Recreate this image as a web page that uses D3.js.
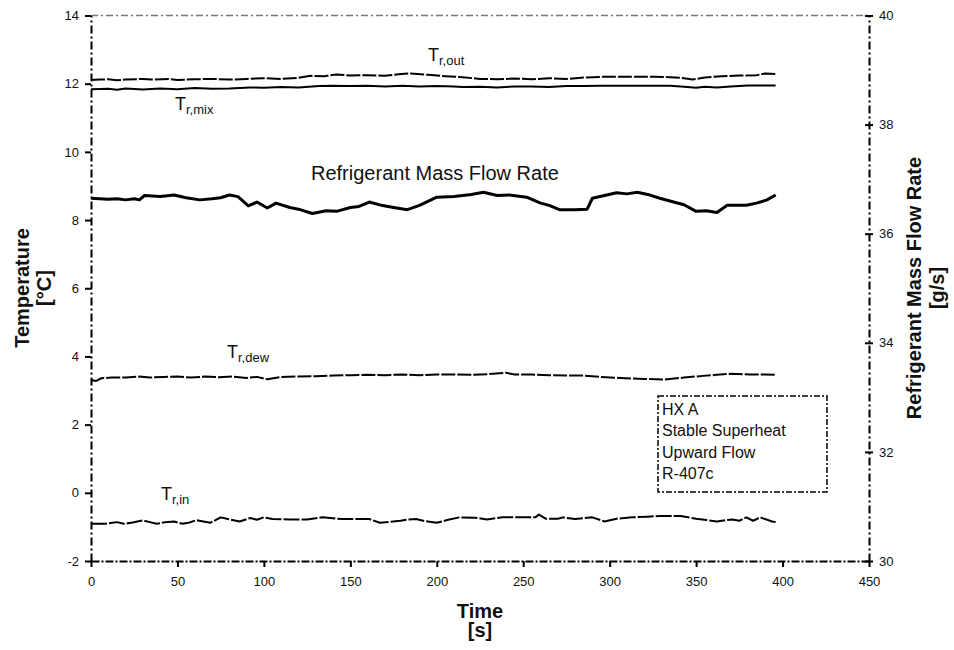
<!DOCTYPE html>
<html><head><meta charset="utf-8">
<script src="https://cdn.jsdelivr.net/npm/d3@7"></script>
<style>body{margin:0;background:#fff}svg{display:block;font-family:"Liberation Sans",Arial,sans-serif}</style>
</head><body>
<svg id="c" width="954" height="650"></svg>
<script>
// ---------- data ----------
const xTicks = [0,50,100,150,200,250,300,350,400,450];
const yLeftTicks = [-2,0,2,4,6,8,10,12,14];
const yRightTicks = [30,32,34,36,38,40];

const massTime = [0,5,10,15,20,25,28,31,40,48,55,63,70,75,80,85,91,96,102,107,115,120,128,131,136,142,150,155,161,168,175,183,190,200,210,220,227,235,242,252,260,265,271,280,287,290,297,304,310,316,322,329,337,343,350,356,362,368,374,379,385,391,396];
const massFlow = [36.65,36.64,36.63,36.64,36.62,36.64,36.62,36.70,36.68,36.71,36.66,36.62,36.64,36.66,36.71,36.68,36.51,36.58,36.47,36.56,36.48,36.45,36.37,36.39,36.42,36.41,36.48,36.50,36.58,36.52,36.48,36.44,36.52,36.67,36.68,36.72,36.76,36.70,36.71,36.67,36.56,36.52,36.44,36.44,36.45,36.65,36.70,36.75,36.73,36.76,36.72,36.65,36.58,36.53,36.41,36.42,36.39,36.52,36.52,36.52,36.56,36.62,36.71];

const tOutTime = [0,5,10,15,20,30,35,45,50,60,70,80,90,100,110,120,127,135,142,150,160,170,178,185,195,205,215,225,235,245,255,265,275,285,295,305,315,325,335,342,348,355,365,375,385,390,396];
const tOut = [12.11,12.12,12.13,12.10,12.12,12.14,12.12,12.14,12.11,12.13,12.14,12.12,12.14,12.16,12.14,12.17,12.23,12.22,12.27,12.24,12.25,12.23,12.28,12.30,12.26,12.22,12.19,12.14,12.13,12.15,12.13,12.16,12.14,12.18,12.20,12.20,12.20,12.20,12.19,12.17,12.12,12.18,12.22,12.24,12.25,12.30,12.28];

const tMixTime = [0,10,15,20,30,40,50,60,70,80,92,100,110,120,132,140,150,160,170,180,190,200,210,215,225,235,245,255,265,275,285,295,305,315,325,335,345,350,355,362,370,380,390,396];
const tMix = [11.84,11.85,11.82,11.86,11.83,11.86,11.84,11.87,11.85,11.86,11.89,11.88,11.90,11.89,11.93,11.94,11.93,11.94,11.92,11.94,11.92,11.93,11.92,11.90,11.91,11.89,11.92,11.92,11.90,11.93,11.93,11.94,11.94,11.94,11.94,11.94,11.90,11.88,11.91,11.89,11.92,11.95,11.95,11.95];

const tDewTime = [0,3,6,12,20,28,34,42,50,58,66,74,82,90,96,102,110,120,130,140,150,160,170,180,190,200,210,220,230,240,245,255,265,275,285,295,306,320,331,343,354,362,370,381,390,396];
const tDew = [3.31,3.28,3.36,3.38,3.38,3.41,3.38,3.40,3.41,3.38,3.41,3.39,3.41,3.37,3.40,3.33,3.40,3.41,3.42,3.44,3.45,3.46,3.45,3.47,3.45,3.47,3.47,3.46,3.48,3.52,3.47,3.47,3.45,3.44,3.44,3.40,3.37,3.34,3.32,3.38,3.43,3.46,3.49,3.47,3.47,3.46];

const tInTime = [0,8,15,19,24,30,34,38,43,48,53,57,61,65,69,75,80,86,92,96,100,105,115,125,134,145,161,167,173,179,184,188,193,200,206,213,222,229,238,250,257,259,263,270,273,280,290,297,304,313,322,329,341,350,356,362,371,375,379,383,387,394,396];
const tIn = [-0.91,-0.91,-0.86,-0.91,-0.87,-0.81,-0.86,-0.91,-0.86,-0.84,-0.91,-0.87,-0.80,-0.84,-0.88,-0.72,-0.78,-0.84,-0.74,-0.79,-0.72,-0.77,-0.78,-0.78,-0.72,-0.77,-0.77,-0.88,-0.85,-0.82,-0.78,-0.77,-0.83,-0.88,-0.80,-0.72,-0.73,-0.78,-0.72,-0.72,-0.72,-0.64,-0.76,-0.76,-0.72,-0.77,-0.72,-0.84,-0.76,-0.72,-0.70,-0.68,-0.68,-0.76,-0.80,-0.84,-0.78,-0.82,-0.72,-0.82,-0.72,-0.84,-0.86];

const legendLines = ["HX A","Stable Superheat","Upward Flow","R-407c"];

// ---------- chart ----------
const svg = d3.select("#c");
const L = 91, R = 869, T = 15.5, B = 561;
const x = d3.scaleLinear().domain([0,450]).range([L,R]);
const yL = d3.scaleLinear().domain([-2,14]).range([B,T]);
const yR = d3.scaleLinear().domain([30,40]).range([B,T]);
const fmt = d => String(d);

// frame top
svg.append("line").attr("x1",L).attr("x2",R).attr("y1",T).attr("y2",T)
  .attr("stroke","#777").attr("stroke-width",1.3).attr("stroke-dasharray","7,3,2,3");

function styleAxis(g, dash){
  g.select(".domain").attr("stroke","#000").attr("stroke-width",2).attr("stroke-dasharray",dash);
  g.selectAll(".tick line").attr("stroke","#000").attr("stroke-width",2);
  g.selectAll(".tick text").attr("font-family","Liberation Sans, Arial, sans-serif").attr("font-size",13).attr("fill","#111");
}

const gx = svg.append("g").attr("transform",`translate(0,${B})`)
  .call(d3.axisBottom(x).tickValues(xTicks).tickSize(6).tickSizeOuter(0).tickPadding(10).tickFormat(fmt));
styleAxis(gx,"8,2,2,2");

const gl = svg.append("g").attr("transform",`translate(${L},0)`)
  .call(d3.axisLeft(yL).tickValues(yLeftTicks).tickSize(6).tickSizeOuter(0).tickPadding(6).tickFormat(fmt));
styleAxis(gl,"8,3,2,3");

const gr = svg.append("g").attr("transform",`translate(${R},0)`)
  .call(d3.axisRight(yR).tickValues(yRightTicks).tickSize(4).tickSizeOuter(0).tickPadding(6).tickFormat(fmt));
styleAxis(gr,"8,3,2,3");
gr.selectAll(".tick line").attr("x1",-4);

// series
function series(tArr, vArr, yScale, width, dash){
  const pts = tArr.map((t,i)=>[t,vArr[i]]);
  const line = d3.line().x(d=>x(d[0])).y(d=>yScale(d[1])).curve(d3.curveLinear);
  const p = svg.append("path").datum(pts).attr("d",line).attr("fill","none")
    .attr("stroke","#000").attr("stroke-width",width).attr("stroke-linejoin","round");
  if(dash) p.attr("stroke-dasharray",dash);
}
series(tOutTime,tOut,yL,2,"14,2");
series(tMixTime,tMix,yL,2,null);
series(massTime,massFlow,yR,3,null);
series(tDewTime,tDew,yL,2,"14,2");
series(tInTime,tIn,yL,2,"16,2");

// labels
function tLabel(xp, yp, sub){
  const t = svg.append("text").attr("x",xp).attr("y",yp).attr("font-size",18).attr("fill","#111");
  t.append("tspan").text("T");
  t.append("tspan").attr("font-size",13).attr("dy",4).text(sub);
}
tLabel(428,61,"r,out");
tLabel(175,110,"r,mix");
tLabel(227,358,"r,dew");
tLabel(161,500,"r,in");

svg.append("text").attr("x",311).attr("y",180).attr("font-size",20).attr("fill","#111")
  .text("Refrigerant Mass Flow Rate");

// axis titles
const bold = {"font-size":20,"font-weight":"bold","fill":"#111","text-anchor":"middle"};
function addText(txt, xp, yp, rot){
  const t = svg.append("text").attr("transform",`translate(${xp},${yp}) rotate(${rot})`).text(txt);
  Object.entries(bold).forEach(([k,v])=>t.attr(k,v));
}
addText("Time",480,618,0);
addText("[s]",480,637,0);
addText("Temperature",29,288,-90);
addText("[°C]",51,288,-90);
addText("Refrigerant Mass Flow Rate",921,288,-90);
addText("[g/s]",944,288,-90);

// legend box
svg.append("rect").attr("x",658).attr("y",396).attr("width",169).attr("height",96)
  .attr("fill","none").attr("stroke","#000").attr("stroke-width",1.5).attr("stroke-dasharray","6,2,2,2");
legendLines.forEach((s,i)=>{
  svg.append("text").attr("x",662).attr("y",415+i*21.3).attr("font-size",16).attr("fill","#111").text(s);
});
</script>
</body></html>
